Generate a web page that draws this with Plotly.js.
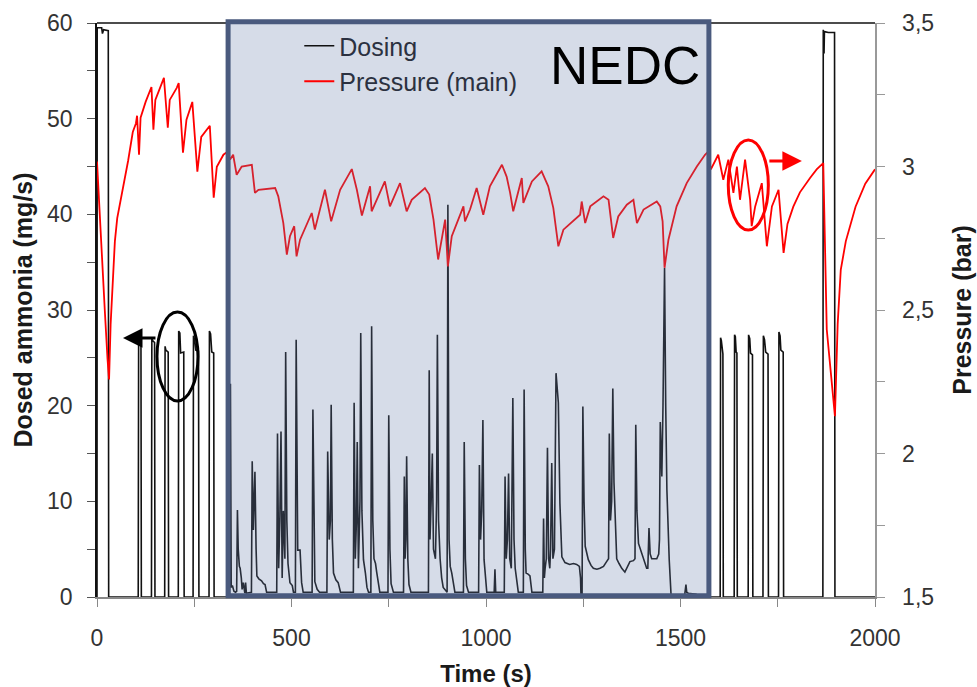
<!DOCTYPE html>
<html>
<head>
<meta charset="utf-8">
<script src="https://cdn.plot.ly/plotly-3.0.1.min.js"></script>
<style>html,body{margin:0;padding:0;background:#fff;}#chart{width:977px;height:687px;}</style>
</head>
<body>
<div id="chart"></div>
<script>
// ---- Data ----
const dosingTime = [0,0.5,12,14,17,29,30,106,107,109,113,114,140,141,143,148,149,174,175,177,183,184,209,210,213,215,223,224,247,248,251,254,261,262,288,289,292,295,300,301,
340,341,343,345,348,352,356,359,361,363,366,368,371,373,376,378,380,382,384,397,399,402,404,406,409,411,416,423,428,432,436,
462,464,467,470,473,476,479,483,485,488,491,496,502,505,510,512,514,516,522,526,530,553,555,558,560,566,572,591,593,597,600,602,605,608,614,620,626,
659,661,664,667,669,672,676,678,681,685,690,694,698,704,706,709,712,716,719,723,727,748,750,753,756,762,788,790,792,794,796,799,802,807,
852,854,856,859,862,865,870,873,875,878,882,886,890,900,902,905,908,912,916,920,942,944,947,950,955,981,983,986,989,992,995,998,1002,1021,1023,1025,
1047,1049,1052,1055,1058,1061,1065,1069,1072,1075,1079,1083,1096,1098,1101,1103,1108,1113,1118,1146,1148,1150,1152,1155,1158,1161,1164,1166,1169,1172,1176,1180,1186,1190,1195,1203,1215,1225,1233,1240,1243,1244,1247,
1249,1252,1255,1263,1270,1276,1285,1293,1302,1310,1315,1317,1320,1323,1326,1329,1332,1336,1342,1349,1357,1364,1370,1379,1383,1385,1388,1392,1400,1405,1409,1413,1416,1419,1422,1426,1432,1439,1444,1446,1448,1450,1452,1455,1459,1462,1465,1471,1474,1476,
1510,1512,1514,1516,1520,1540,1542,1602,1603,1605,1608,1609,1610,1638,1639,1641,1643,1645,1646,1674,1675,1678,1680,1685,1686,1712,1713,1716,1719,1725,1726,1752,1753,1756,1758,1764,1765,1866,1867,1869,1870,1880,1896,1897,2000];
const dosingValue = [0,59.5,59.5,58.9,59.3,59.2,0,0,26.8,26.5,26.3,0,0,27.1,26.8,26.6,0,0,26.2,25.8,25.6,0,0,27.8,27.6,25.5,25.6,0,0,27.3,26.9,25.8,25.7,0,0,27.8,27.5,25.6,25.5,0,
0,0.4,22.3,1.0,1.2,0.6,0.5,0.6,9.1,5.0,3.2,3.0,2.0,0.8,1.5,0.5,0.4,1.5,0.4,0.5,14.2,7.0,12.0,13.1,5.0,2.2,1.9,1.7,1.4,1.3,0.5,
0.5,17.1,3.0,8.0,17.3,2.0,9.0,4.0,25.6,8.0,3.5,1.5,1.2,0.5,0.5,26.9,8.0,4.9,4.9,1.5,0.5,0.5,19.6,5.0,1.6,0.8,0.5,0.5,15.2,6.0,8.0,20.1,6.0,2.5,1.8,1.5,0.5,
0.5,20.3,4.0,8.0,16.2,3.0,10.0,27.6,9.0,3.9,2.5,1.0,0.5,0.5,28.3,8.0,4.0,3.5,2.6,1.4,0.5,0.5,19.0,5.0,1.4,0.5,0.5,12.6,4.0,6.0,14.7,4.0,1.3,0.5,
0.5,23.7,6.0,10.0,15.0,5.0,4.0,10.0,27.4,8.0,4.0,2.0,1.0,0.5,41.0,6.0,3.2,2.5,1.5,0.5,0.5,16.2,4.0,1.2,0.5,0.5,13.8,6.0,9.0,18.5,3.9,2.0,0.5,0.5,2.9,0.5,
0.5,12.6,4.0,6.0,12.9,4.0,3.0,20.8,6.0,3.0,1.5,0.5,0.5,21.7,5.0,2.5,2.4,2.2,0.5,0.5,8.2,2.0,3.0,4.0,15.6,4.0,3.0,5.0,14.0,4.0,5.0,23.4,20.3,9.8,4.2,3.6,3.4,3.5,3.4,3.2,2.0,0.4,0.4,
19.9,10.0,5.3,3.9,3.3,3.0,2.9,3.0,3.2,3.7,4.0,17.1,8.0,10.0,21.8,12.0,8.8,4.0,3.5,3.0,2.6,3.2,3.7,3.8,4.0,18.0,9.0,5.6,4.6,4.0,3.6,3.0,3.0,7.2,4.5,4.0,4.0,4.0,4.5,6.0,18.3,14.0,12.6,20.0,34.4,20.0,11.2,3.9,1.0,0,
0,0.6,1.3,0.5,0.4,0.3,0,0,27.1,26.8,25.5,25.4,0,0,27.4,27.2,25.6,25.5,0,0,27.4,27.0,25.5,25.3,0,0,27.3,26.9,25.6,25.4,0,0,27.7,27.3,25.8,25.6,0,0,59.3,56.8,59.1,59.0,59.0,0,0];

const pressureTime = [0,6,12,20,27,31,35,39,46,52,59,68,80,92,100,103,108,112,125,140,145,150,165,172,182,187,205,210,221,230,245,258,268,290,300,308,325,335,
342,350,359,372,398,406,415,458,466,479,488,496,507,513,522,552,560,586,602,625,655,668,681,702,706,740,753,779,796,809,843,854,865,877,895,902,912,942,946,959,976,993,1010,
1041,1053,1062,1070,1092,1096,1118,1143,1160,1173,1186,1199,1242,1246,1255,1268,1302,1315,1327,1340,1362,1379,1388,1405,1439,1448,1454,1459,1469,1490,1516,1542,1563,1570,1578,
1597,1610,1623,1636,1645,1653,1666,1679,1683,1692,1709,1722,1735,1752,1765,1775,1790,1807,1833,1850,1867,1876,1897,1904,1912,1925,1950,1975,2000];
const pressureValue = [3.017,2.85,2.70,2.50,2.33,2.258,2.45,2.57,2.74,2.82,2.87,2.93,3.02,3.12,3.15,3.177,3.041,3.170,3.225,3.277,3.128,3.232,3.285,3.309,3.135,3.232,3.274,3.291,3.048,3.163,3.225,2.982,3.103,3.142,2.891,2.999,3.041,3.051,
3.024,3.041,2.971,3.000,3.006,2.908,2.919,2.925,2.896,2.803,2.693,2.757,2.792,2.687,2.745,2.838,2.780,2.919,2.809,2.919,2.991,2.919,2.829,2.931,2.844,2.948,2.861,2.942,2.844,2.884,2.925,2.902,2.815,2.676,2.815,2.652,2.757,2.861,2.809,2.850,2.925,2.832,2.931,
3.006,2.965,2.908,2.844,2.960,2.873,2.948,2.983,2.931,2.856,2.722,2.780,2.832,2.878,2.803,2.861,2.896,2.884,2.751,2.826,2.867,2.884,2.803,2.850,2.878,2.861,2.809,2.647,2.745,2.861,2.942,3.000,3.041,3.050,2.990,
3.041,2.954,3.024,2.908,3.000,2.884,3.024,2.884,2.792,2.861,2.942,2.722,2.861,2.919,2.699,2.80,2.86,2.91,2.96,2.99,3.012,2.432,2.130,2.45,2.64,2.74,2.86,2.94,2.99];

const xTickVals = [0,500,1000,1500,2000];
const yTickVals = [0,10,20,30,40,50,60];
const y2TickVals = [1.5,2,2.5,3,3.5];
const y2TickText = ["1,5","2","2,5","3","3,5"];
const nedcStart = 337, nedcEnd = 1573;

const FONT = "Arial, 'Liberation Sans', sans-serif";

const traces = [
  {x: dosingTime, y: dosingValue, name: 'Dosing', type: 'scatter', mode: 'lines',
   line: {color: '#111111', width: 1.6}, yaxis: 'y', legendgroup: 'a'},
  {x: pressureTime, y: pressureValue, name: 'Pressure (main)', type: 'scatter', mode: 'lines',
   line: {color: '#ff0000', width: 1.8}, yaxis: 'y2', legendgroup: 'b'}
];

const layout = {
  width: 977, height: 687,
  margin: {l: 97, r: 102, t: 23, b: 90},
  paper_bgcolor: '#ffffff', plot_bgcolor: '#ffffff',
  font: {family: FONT, color: '#333333', size: 23},
  showlegend: true,
  legend: {x: 0.260, y: 1.0, xanchor: 'left', yanchor: 'top', bgcolor: 'rgba(0,0,0,0)',
           font: {family: FONT, size: 25, color: '#2b3140'}, tracegroupgap: 0},
  xaxis: {range: [0, 2000], tickvals: xTickVals, ticks: 'outside', ticklen: 8, tickcolor: '#888888',
          showline: true, linecolor: '#888888', linewidth: 1.5, showgrid: false, zeroline: false,
          tickfont: {size: 23, color: '#333333'}, ticklabelstandoff: 12,
          minor: {dtick: 250, ticks: 'outside', ticklen: 8, tickcolor: '#888888', showgrid: false},
          title: {text: 'Time (s)', font: {size: 24, weight: 'bold', color: '#1a1a1a'}, standoff: 17}},
  yaxis: {range: [0, 60], tickvals: yTickVals, ticks: 'outside', ticklen: 8, tickcolor: '#555555',
          showline: true, linecolor: '#111111', linewidth: 1.8, showgrid: false, zeroline: false,
          tickfont: {size: 23, color: '#333333'}, ticklabelstandoff: 10,
          minor: {dtick: 5, ticks: 'outside', ticklen: 8, tickcolor: '#555555', showgrid: false},
          title: {text: 'Dosed ammonia (mg/s)', font: {size: 25, weight: 'bold', color: '#1a1a1a'}, standoff: 7}},
  yaxis2: {range: [1.5, 3.5], overlaying: 'y', side: 'right', tickvals: y2TickVals, ticktext: y2TickText,
           ticks: 'outside', ticklen: 8, tickcolor: '#999999', showline: true, linecolor: '#999999', linewidth: 1.5,
           showgrid: false, zeroline: false, tickfont: {size: 23, color: '#333333'}, ticklabelstandoff: 13,
           minor: {dtick: 0.25, ticks: 'outside', ticklen: 8, tickcolor: '#999999', showgrid: false},
           title: {text: 'Pressure (bar)', font: {size: 25, weight: 'bold', color: '#1a1a1a'}, standoff: 20}},
  shapes: [
    {type: 'line', xref: 'paper', yref: 'paper', x0: 0, x1: 1, y0: 1, y1: 1, line: {color: '#111111', width: 1.5}},
    {type: 'rect', xref: 'x', yref: 'paper', x0: nedcStart, x1: nedcEnd, y0: 0.002, y1: 1.002, layer: 'above',
     fillcolor: 'rgba(104,126,170,0.27)', line: {color: '#4a5a7e', width: 5}},
    {type: 'circle', xref: 'paper', yref: 'paper', x0: 0.0771, x1: 0.1298, y0: 0.3415, y1: 0.4965,
     line: {color: '#000000', width: 3}},
    {type: 'circle', xref: 'paper', yref: 'paper', x0: 0.8114, x1: 0.8629, y0: 0.6394, y1: 0.7962,
     line: {color: '#ff0000', width: 3}}
  ],
  annotations: [
    {text: 'NEDC', xref: 'paper', yref: 'paper', x: 0.679, y: 0.926, xanchor: 'center', yanchor: 'middle',
     showarrow: false, font: {family: FONT, size: 53, color: '#000000'}},
    {text: '', xref: 'paper', yref: 'paper', x: 0.0334, y: 0.4512, ax: 34, ay: 0, showarrow: true,
     arrowhead: 2, arrowsize: 1.3, arrowwidth: 3, arrowcolor: '#000000'},
    {text: '', xref: 'paper', yref: 'paper', x: 0.906, y: 0.7596, ax: -34, ay: 0, showarrow: true,
     arrowhead: 2, arrowsize: 1.3, arrowwidth: 3, arrowcolor: '#ff0000'}
  ]
};

Plotly.newPlot('chart', traces, layout, {displayModeBar: false, staticPlot: true});
</script>
</body>
</html>
